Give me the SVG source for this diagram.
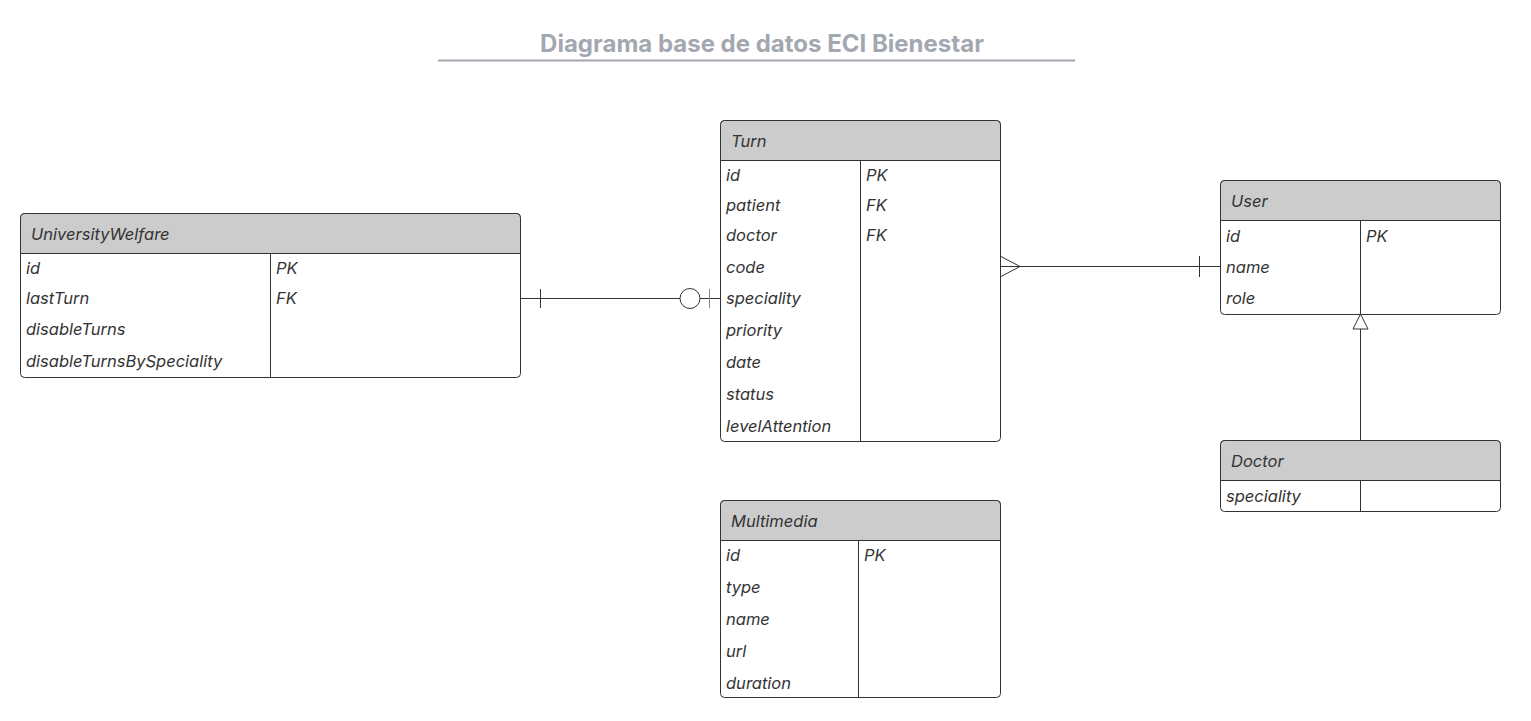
<svg xmlns="http://www.w3.org/2000/svg" width="1531" height="721" viewBox="0 0 1531 721">
<style>
.box{fill:#fff;stroke:#333;stroke-width:1}
.hdr{fill:#cccccc;stroke:#333;stroke-width:1}
.ln{stroke:#333;stroke-width:1;fill:none}
.t{font-family:Inter,"Liberation Sans",sans-serif;font-size:16.5px;font-style:italic;fill:#333;dominant-baseline:central}
.title{font-family:Inter,"Liberation Sans",sans-serif;font-size:24px;font-weight:bold;fill:#a3a8b0;text-anchor:middle}
</style>
<rect width="1531" height="721" fill="#fff"/>
<g id="title">
<text class="title" x="762" y="52">Diagrama base de datos ECI Bienestar</text>
<line x1="438" y1="60.5" x2="1075" y2="60.5" stroke="#a3a8b0" stroke-width="2"/>
</g>
<g id="connectors">
<line class="ln" x1="520" y1="298.5" x2="720" y2="298.5"/>
<line class="ln" x1="540.5" y1="289" x2="540.5" y2="308"/>
<circle cx="690" cy="298.5" r="10" fill="#fff" stroke="#333"/>
<line x1="709.5" y1="289" x2="709.5" y2="308" stroke="#888"/>
<line class="ln" x1="1000" y1="266.5" x2="1220" y2="266.5"/>
<polyline class="ln" points="1000,256 1020,266.5 1000,277"/>
<line class="ln" x1="1199.5" y1="256" x2="1199.5" y2="277"/>
<line class="ln" x1="1360.5" y1="440" x2="1360.5" y2="329"/>
<polygon points="1360.5,314 1353,329 1368,329" fill="#fff" stroke="#333"/>
</g>
<g id="UniversityWelfare">
<rect class="box" x="20.5" y="213.5" width="500" height="164" rx="4"/>
<path class="hdr" d="M20.5,253.5 V217.5 a4,4 0 0 1 4,-4 H516.5 a4,4 0 0 1 4,4 V253.5 Z"/>
<line class="ln" x1="270.5" y1="253.5" x2="270.5" y2="377.5"/>
<text class="t" x="31" y="234">UniversityWelfare</text>
<text class="t" x="26" y="268">id</text>
<text class="t" x="26" y="298">lastTurn</text>
<text class="t" x="26" y="329">disableTurns</text>
<text class="t" x="26" y="361">disableTurnsBySpeciality</text>
<text class="t" x="276" y="268">PK</text>
<text class="t" x="276" y="298">FK</text>
</g>
<g id="Turn">
<rect class="box" x="720.5" y="120.5" width="280" height="321" rx="4"/>
<path class="hdr" d="M720.5,160.5 V124.5 a4,4 0 0 1 4,-4 H996.5 a4,4 0 0 1 4,4 V160.5 Z"/>
<line class="ln" x1="860.5" y1="160.5" x2="860.5" y2="441.5"/>
<text class="t" x="731" y="141">Turn</text>
<text class="t" x="726" y="175">id</text>
<text class="t" x="726" y="205">patient</text>
<text class="t" x="726" y="235">doctor</text>
<text class="t" x="726" y="267">code</text>
<text class="t" x="726" y="298">speciality</text>
<text class="t" x="726" y="330">priority</text>
<text class="t" x="726" y="362">date</text>
<text class="t" x="726" y="394">status</text>
<text class="t" x="726" y="426">levelAttention</text>
<text class="t" x="866" y="175">PK</text>
<text class="t" x="866" y="205">FK</text>
<text class="t" x="866" y="235">FK</text>
</g>
<g id="User">
<rect class="box" x="1220.5" y="180.5" width="280" height="134" rx="4"/>
<path class="hdr" d="M1220.5,220.5 V184.5 a4,4 0 0 1 4,-4 H1496.5 a4,4 0 0 1 4,4 V220.5 Z"/>
<line class="ln" x1="1360.5" y1="220.5" x2="1360.5" y2="314.5"/>
<text class="t" x="1231" y="201">User</text>
<text class="t" x="1226" y="236">id</text>
<text class="t" x="1226" y="267">name</text>
<text class="t" x="1226" y="298">role</text>
<text class="t" x="1366" y="236">PK</text>
</g>
<g id="Doctor">
<rect class="box" x="1220.5" y="440.5" width="280" height="71" rx="4"/>
<path class="hdr" d="M1220.5,480.5 V444.5 a4,4 0 0 1 4,-4 H1496.5 a4,4 0 0 1 4,4 V480.5 Z"/>
<line class="ln" x1="1360.5" y1="480.5" x2="1360.5" y2="511.5"/>
<text class="t" x="1231" y="461">Doctor</text>
<text class="t" x="1226" y="496">speciality</text>
</g>
<g id="Multimedia">
<rect class="box" x="720.5" y="500.5" width="280" height="197" rx="4"/>
<path class="hdr" d="M720.5,540.5 V504.5 a4,4 0 0 1 4,-4 H996.5 a4,4 0 0 1 4,4 V540.5 Z"/>
<line class="ln" x1="858.5" y1="540.5" x2="858.5" y2="697.5"/>
<text class="t" x="731" y="521">Multimedia</text>
<text class="t" x="726" y="555">id</text>
<text class="t" x="726" y="587">type</text>
<text class="t" x="726" y="619">name</text>
<text class="t" x="726" y="651">url</text>
<text class="t" x="726" y="683">duration</text>
<text class="t" x="864" y="555">PK</text>
</g>
</svg>
